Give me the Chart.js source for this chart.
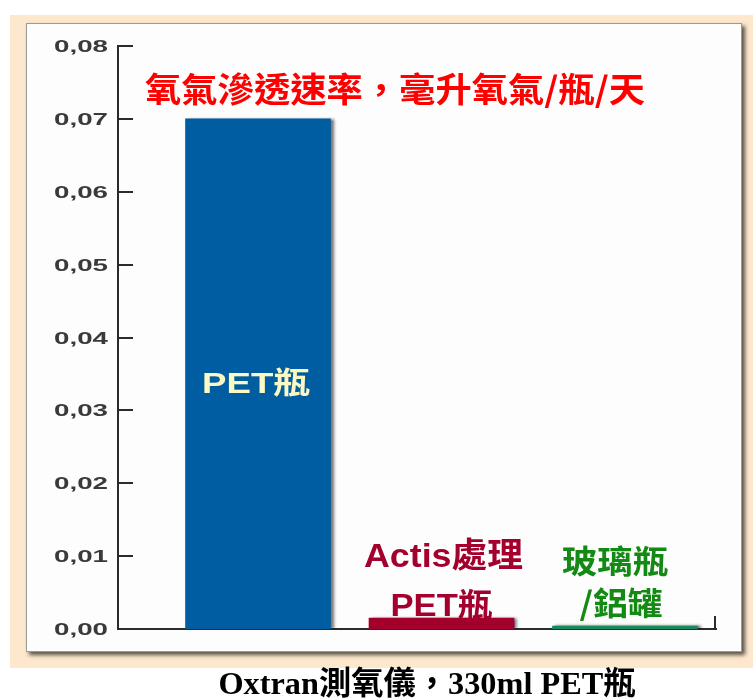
<!DOCTYPE html>
<html><head><meta charset="utf-8">
<script src="https://cdn.jsdelivr.net/npm/chart.js@4/dist/chart.umd.min.js"></script>
<style>html,body{margin:0;padding:0;background:#fff;}#wrap{width:753px;height:700px;}</style>
</head><body><div id="wrap"><canvas id="c" width="753" height="700"></canvas></div>
<script>
// ---- data ----
const categories = ['PET瓶', 'Actis處理PET瓶', '玻璃瓶/鋁罐'];
const categoryLabelLines = [['PET瓶'], ['Actis處理', 'PET瓶'], ['玻璃瓶', '/鋁罐']];
const barPositions = [1, 2, 3];
const oxygenRate = [0.07, 0.0015, 0.0004];
const yTicks = [0, 0.01, 0.02, 0.03, 0.04, 0.05, 0.06, 0.07, 0.08];
const yTickLabels = ['0,00', '0,01', '0,02', '0,03', '0,04', '0,05', '0,06', '0,07', '0,08'];
const chartTitle = '氧氣滲透速率，毫升氧氣/瓶/天';
const footerText = 'Oxtran測氧儀，330ml PET瓶';

// ---- styles ----
const barColors = ['#005da1', '#a3002c', '#17895c'];
const labelColors = ['#fcf8c4', '#a3002d', '#138a13'];
const AXIS = '#2b2b2b';

function fitText(ctx, text, x, y, w, font, color, align) {
  ctx.save();
  ctx.font = font; ctx.fillStyle = color; ctx.textBaseline = 'middle';
  const m = ctx.measureText(text).width;
  ctx.translate(x, y); ctx.scale(w / m, 1);
  ctx.textAlign = align || 'center';
  ctx.fillText(text, 0, 0);
  ctx.restore();
}

const decor = {
  id: 'decor',
  beforeDraw(chart) {
    const ctx = chart.ctx;
    ctx.save();
    ctx.fillStyle = '#ffffff'; ctx.fillRect(0, 0, chart.width, chart.height);
    ctx.fillStyle = '#fde8cd'; ctx.fillRect(10, 15, 743, 653);
    ctx.shadowColor = 'rgba(0,0,0,0.65)'; ctx.shadowBlur = 4; ctx.shadowOffsetX = 3; ctx.shadowOffsetY = 3;
    ctx.fillStyle = '#fdfdfd'; ctx.fillRect(26, 23, 716, 629);
    ctx.shadowColor = 'transparent';
    ctx.strokeStyle = '#9a9a9a'; ctx.lineWidth = 1; ctx.strokeRect(26.5, 23.5, 715, 628);
    ctx.restore();
  },
  beforeDatasetsDraw(chart) {
    const ctx = chart.ctx;
    ctx.save();
    ctx.shadowColor = 'rgba(0,0,0,0.6)'; ctx.shadowBlur = 3; ctx.shadowOffsetX = 3; ctx.shadowOffsetY = 0;
  },
  afterDatasetsDraw(chart) { chart.ctx.restore(); },
  afterDraw(chart) {
    const ctx = chart.ctx, xs = chart.scales.x, ys = chart.scales.y, a = chart.chartArea;
    ctx.save();
    ctx.strokeStyle = AXIS; ctx.lineWidth = 2;
    yTicks.forEach((v, i) => {
      const p = Math.round(ys.getPixelForValue(v));
      if (i > 0) { ctx.beginPath(); ctx.moveTo(a.left, p); ctx.lineTo(a.left + 15, p); ctx.stroke(); }
      fitText(ctx, yTickLabels[i], 108, p + 1, 54, 'bold 17px "Liberation Sans", Arial, sans-serif', '#3a3a3a', 'right');
    });
    ctx.beginPath(); ctx.moveTo(a.right - 1, a.bottom); ctx.lineTo(a.right - 1, a.bottom - 13); ctx.stroke();
    ctx.restore();

    fitText(ctx, chartTitle, 395, 89, 500, 'bold 34px "Noto Sans CJK TC", sans-serif', '#ff0000');

    const f = (s) => 'bold ' + s + 'px "Liberation Sans", "Noto Sans CJK TC", sans-serif';
    const x0 = xs.getPixelForValue(barPositions[0]);
    const x1 = xs.getPixelForValue(barPositions[1]);
    const x2 = xs.getPixelForValue(barPositions[2]);
    fitText(ctx, categoryLabelLines[0][0], x0 - 2, 385, 108, f(30), labelColors[0]);
    fitText(ctx, categoryLabelLines[1][0], x1 + 2, 558, 159, f(34), labelColors[1]);
    fitText(ctx, categoryLabelLines[1][1], x1 + 0, 607, 102, f(32), labelColors[1]);
    fitText(ctx, categoryLabelLines[2][0], x2 - 10, 561, 106, 'bold 32px "Noto Sans CJK TC", sans-serif', labelColors[2]);
    fitText(ctx, categoryLabelLines[2][1], x2 - 4, 603, 83, 'bold 32px "Noto Sans CJK TC", sans-serif', labelColors[2]);

    fitText(ctx, footerText, 427, 686, 417, 'bold 32px "Liberation Serif", "Noto Sans CJK TC", serif', '#000000');
  }
};

new Chart(document.getElementById('c'), {
  type: 'bar',
  data: {
    labels: categories,
    datasets: [{
      data: barPositions.map((x, i) => ({ x: x, y: oxygenRate[i] })),
      backgroundColor: barColors,
      borderWidth: 0,
      barThickness: 145
    }]
  },
  options: {
    responsive: false,
    animation: false,
    devicePixelRatio: 1,
    layout: { padding: { left: 0, top: 46, right: 37, bottom: 71 } },
    plugins: { legend: { display: false }, tooltip: { enabled: false }, title: { display: false } },
    scales: {
      x: {
        type: 'linear', min: 0.237, max: 3.496, offset: false,
        ticks: { display: false },
        grid: { display: false, offset: false },
        border: { display: true, color: AXIS, width: 2 },
        afterFit: (s) => { s.height = 0; }
      },
      y: {
        min: 0, max: 0.08,
        ticks: { display: false, stepSize: 0.01 },
        grid: { display: false },
        border: { display: true, color: AXIS, width: 2 },
        afterFit: (s) => { s.width = 118; }
      }
    }
  },
  plugins: [decor]
});
</script>
</body></html>
